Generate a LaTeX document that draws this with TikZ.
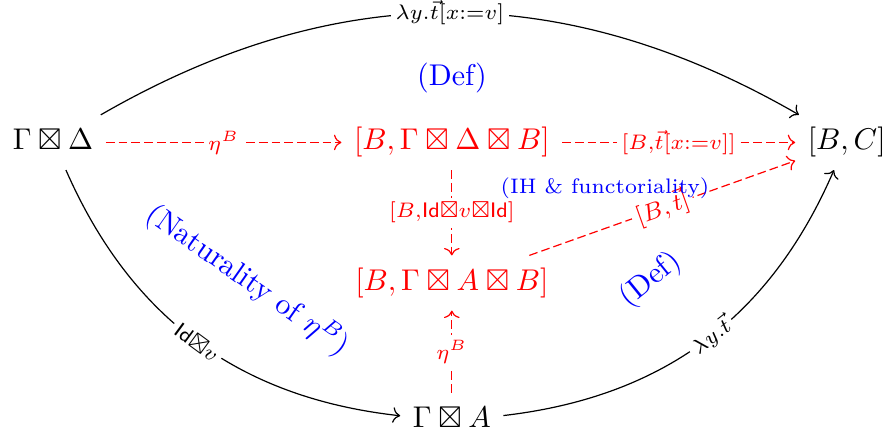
\documentclass[tikz,border=0pt]{standalone}
\usepackage{amsmath,amssymb}
\usepackage{xcolor}
\usepackage{tikz}
\usetikzlibrary{arrows.meta,positioning}
\tikzset{
  obj/.style={inner xsep=4pt,inner ysep=4pt,text height=7.5pt,text depth=2.5pt},
  redobj/.style={obj,text=red},
  catarrow/.style={->,draw=black},
  redarrow/.style={->,red,dash pattern=on 2.9pt off 1.35pt},
  desc/.style={fill=white,inner sep=1.5pt,anchor=center,
    execute at begin node=$\scriptstyle,execute at end node=$},
  remark/.style={text=blue,align=center}
}

\begin{document}
\begin{tikzpicture}
\useasboundingbox (0,0) rectangle (10.462,-5.096);

\node[obj] (src) at (0.621,-1.669) {$\Gamma\boxtimes\Delta$};
\node[redobj, right=2.76cm of src] (hom) {$[B,\Gamma\boxtimes\Delta\boxtimes B]$};
\node[obj, right=2.73cm of hom] (tgt) {$[B,C]$};
\node[redobj, below=1.0cm of hom] (homA) {$[B,\Gamma\boxtimes A\boxtimes B]$};
\node[obj, below=0.96cm of homA] (ctx) {$\Gamma\boxtimes A$};

\draw[redarrow] (src) -- node[desc] {\eta^B} (hom);
\draw[redarrow] (hom) -- node[desc] {[B,\vec{t}[x:=v]]} (tgt);
\draw[redarrow] (hom) -- node[desc] {[B,\mathsf{Id}\boxtimes v\boxtimes\mathsf{Id}]} (homA);
\draw[redarrow] (ctx) -- node[desc] {\eta^B} (homA);
\draw[redarrow] (homA) -- node[fill=white,inner sep=1.5pt,sloped,font=\footnotesize] {$[B,\vec{t}]$} (tgt);

\draw[catarrow] (src) to[bend left=30] node[desc] {\lambda y.\vec{t}[x:=v]} (tgt);
\draw[catarrow] (src) to[bend right=30] node[desc,sloped,pos=0.5] {\mathsf{Id}\boxtimes v} (ctx);
\draw[catarrow] (ctx) to[bend right=30] node[desc,sloped,pos=0.52] {\lambda y.\vec{t}} (tgt);

% remarks
\node[remark] (defTop) at (5.295,-0.914) {(Def)};
\node[remark, font=\scriptsize] (ih) at (7.088,-2.203) {(IH \& functoriality)};
\node[remark, rotate=-35] (nat) at (2.905,-3.280) {(Naturality of $\eta^B$)};
\node[remark, rotate=39] (defRight) at (7.627,-3.28) {(Def)};
\end{tikzpicture}
\end{document}
